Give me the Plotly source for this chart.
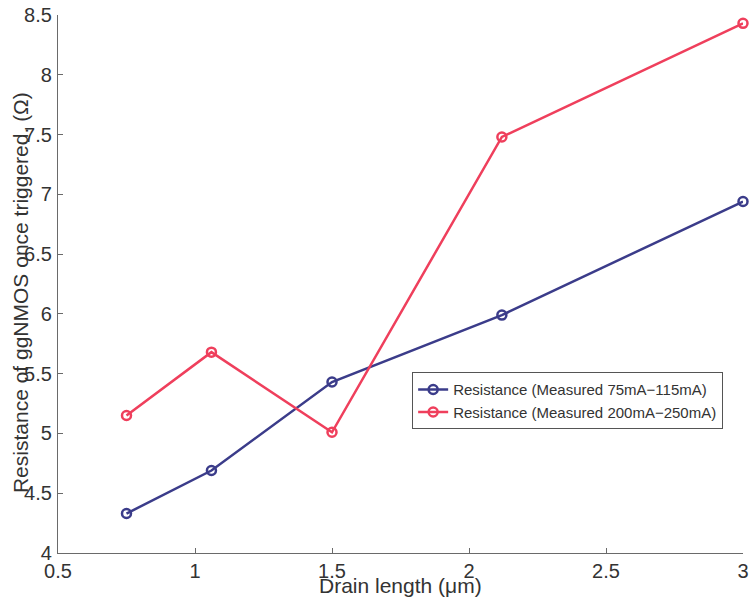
import plotly.graph_objects as go

drain_length = [0.75, 1.06, 1.5, 2.12, 3.0]
res_75_115 = [4.33, 4.69, 5.43, 5.99, 6.94]
res_200_250 = [5.15, 5.68, 5.01, 7.48, 8.43]
series_names = ["Resistance (Measured 75mA\u2212115mA)", "Resistance (Measured 200mA\u2212250mA)"]

x_ticks = [0.5, 1, 1.5, 2, 2.5, 3]
x_tick_text = ["0.5", "1", "1.5", "2", "2.5", "3"]
y_ticks = [4, 4.5, 5, 5.5, 6, 6.5, 7, 7.5, 8, 8.5]
y_tick_text = ["4", "4.5", "5", "5.5", "6", "6.5", "7", "7.5", "8", "8.5"]

blue = "#3b3c8a"
red = "#ef3f5c"
font_family = "Liberation Sans, Arial, sans-serif"

fig = go.Figure()
for vals, name, col in [(res_75_115, series_names[0], blue), (res_200_250, series_names[1], red)]:
    fig.add_trace(go.Scatter(
        x=drain_length, y=vals, name=name, mode="lines+markers",
        line=dict(color=col, width=2.5),
        marker=dict(symbol="circle-open", size=9, color=col, line=dict(width=2.5, color=col)),
        cliponaxis=False,
    ))

axis_common = dict(
    showline=True, linecolor="#6a6a6a", linewidth=1.3,
    ticks="inside", ticklen=5, tickcolor="#6a6a6a", tickwidth=1,
    showgrid=False, zeroline=False, mirror=False, automargin=False,
    ticklabeloverflow="allow",
    tickfont=dict(family=font_family, size=20, color="#333333"),
)

fig.update_xaxes(range=[0.5, 3], tickvals=x_ticks, ticktext=x_tick_text, **axis_common)
fig.update_yaxes(range=[4, 8.5], tickvals=y_ticks, ticktext=y_tick_text, ticklabelstandoff=1, **axis_common)

fig.add_annotation(text="Drain length (\u03bcm)", xref="paper", yref="paper", x=0.5, y=-0.06,
                   xanchor="center", yanchor="middle", showarrow=False,
                   font=dict(family=font_family, size=21, color="#333333"))
fig.add_annotation(text="Resistance of ggNMOS once triggered. (\u03a9)", xref="paper", yref="paper",
                   x=-0.0555, y=0.485, xanchor="center", yanchor="middle", textangle=-90, showarrow=False,
                   font=dict(family=font_family, size=21, color="#333333"))

fig.update_layout(
    width=750, height=598,
    margin=dict(l=58, r=7, t=15, b=45),
    paper_bgcolor="white", plot_bgcolor="white",
    legend=dict(x=0.517, y=0.336, xanchor="left", yanchor="top",
                bordercolor="#555555", borderwidth=1, bgcolor="white",
                font=dict(family=font_family, size=15, color="#333333"),
                tracegroupgap=0, itemwidth=30),
    showlegend=True,
)

fig.write_html("out.html", config={"displayModeBar": False},
               post_script="document.body.style.margin='0px';")
